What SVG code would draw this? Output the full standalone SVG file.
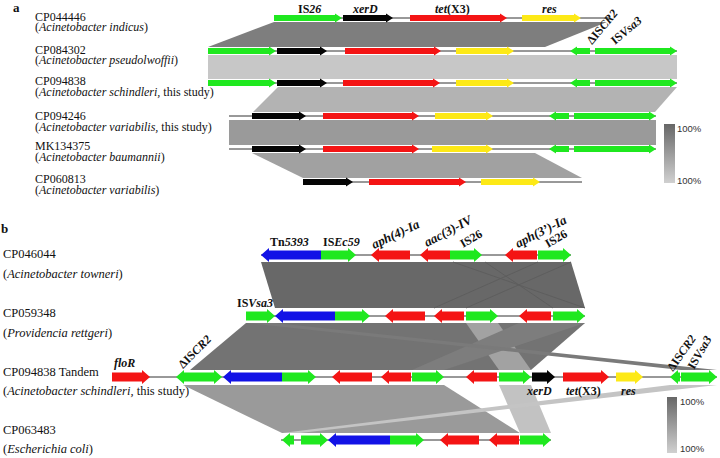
<svg xmlns="http://www.w3.org/2000/svg" width="720" height="458" viewBox="0 0 720 458">
<defs>
<linearGradient id="lg" x1="0" y1="0" x2="0" y2="1">
<stop offset="0" stop-color="#676767"/>
<stop offset="1" stop-color="#d0d0d0"/>
</linearGradient>
<style>
.t{font-family:"Liberation Serif","Times New Roman",serif;font-size:12.5px;fill:#111}
.ta{font-family:"Liberation Serif","Times New Roman",serif;font-size:12px;fill:#111}
.gl{font-family:"Liberation Serif","Times New Roman",serif;font-size:12px;font-weight:bold;fill:#111}
.gb{font-family:"Liberation Serif","Times New Roman",serif;font-size:13px;font-weight:bold;font-style:italic;fill:#111}
.pl{font-family:"Liberation Serif","Times New Roman",serif;font-size:13px;font-weight:bold;fill:#111}
.lg{font-family:"Liberation Sans",Arial,sans-serif;font-size:9.5px;fill:#333}
.ln{stroke:#333;stroke-width:1;fill:none}
.G{fill:#1fe81f}.R{fill:#f41414}.Y{fill:#fde916}.K{fill:#050505}.B{fill:#1212e6}
</style>
</defs>
<rect width="720" height="458" fill="#fff"/>

<!-- ===== Panel a connectors ===== -->
<g id="links-a">
<polygon points="274,22 607,22 545,47 208,47" fill="#7e7e7e"/>
<rect x="208" y="55" width="469" height="24" fill="#c7c7c7"/>
<polygon points="278,87 677,87 655,112 253,112" fill="#b3b3b3"/>
<rect x="229" y="120" width="427" height="25" fill="#9a9a9a"/>
<polygon points="252,153 535,153 582,178 303,178" fill="#a1a1a1"/>
</g>

<!-- ===== Panel b connectors ===== -->
<g id="links-b">
<polygon points="261,262 571,262 585,308 275,308" fill="#686868"/>
<line x1="453" y1="262" x2="585" y2="308" stroke="#5e5e5e" stroke-width="1"/>
<line x1="485" y1="262" x2="553" y2="308" stroke="#5e5e5e" stroke-width="1"/>
<line x1="571" y1="262" x2="466" y2="308" stroke="#5e5e5e" stroke-width="1"/>
<line x1="538" y1="262" x2="434" y2="308" stroke="#5e5e5e" stroke-width="1"/>
<polygon points="246,323 585,323 531,370 190,370" fill="#737373"/>
<polygon points="466,323 498,323 531,370 499,370" fill="#a2a2a2"/>
<polygon points="519,323 585,323 444,370 412,370" fill="#7d7d7d"/>
<polygon points="246,323 275,323 717,370 681,370" fill="#7a7a7a"/>
<polygon points="183,385 444,385 520,433 282,433" fill="#9a9a9a"/>
<polygon points="499,385 531,385 551,433 520,433" fill="#c2c2c2"/>
<polygon points="282,433 300,433 717,385 670,385" fill="#c4c4c4"/>
</g>

<!-- ===== Panel a text ===== -->
<text class="pl" x="13" y="12">a</text>
<g id="labels-a">
<text class="ta" x="35" y="20.5">CP044446</text>
<text class="ta" x="35" y="31">(<tspan font-style="italic">Acinetobacter indicus</tspan>)</text>
<text class="ta" x="35" y="53.5">CP084302</text>
<text class="ta" x="35" y="64">(<tspan font-style="italic">Acinetobacter pseudolwoffii</tspan>)</text>
<text class="ta" x="35" y="85">CP094838</text>
<text class="ta" x="35" y="95.5">(<tspan font-style="italic">Acinetobacter schindleri,</tspan> this study)</text>
<text class="ta" x="35" y="120">CP094246</text>
<text class="ta" x="35" y="130.5">(<tspan font-style="italic">Acinetobacter variabilis,</tspan> this study)</text>
<text class="ta" x="35" y="150">MK134375</text>
<text class="ta" x="35" y="160.5">(<tspan font-style="italic">Acinetobacter baumannii</tspan>)</text>
<text class="ta" x="35" y="183">CP060813</text>
<text class="ta" x="35" y="193.5">(<tspan font-style="italic">Acinetobacter variabilis</tspan>)</text>
</g>
<g id="gene-labels-a">
<text class="gl" x="298" y="12.5">IS<tspan font-style="italic">26</tspan></text>
<text class="gl" x="353" y="12.5" font-style="italic">xerD</text>
<text class="gl" x="435" y="12.5"><tspan font-style="italic">tet</tspan>(X3)</text>
<text class="gl" x="542" y="12.5" font-style="italic">res</text>
<text class="gl" transform="translate(592,45) rotate(-50)">ΔIS<tspan font-style="italic">CR2</tspan></text>
<text class="gl" transform="translate(615,45) rotate(-40)">IS<tspan font-style="italic">Vsa3</tspan></text>
</g>

<!-- Panel a rows -->
<g id="a-row1">
<line class="ln" x1="274" y1="18" x2="610" y2="18"/>
<polygon class="G" points="274,15 335,15 335,13.5 342,18 335,22.5 335,21 274,21"/>
<polygon class="K" points="343,15 386,15 386,13.5 393,18 386,22.5 386,21 343,21"/>
<polygon class="R" points="410,15 500,15 500,13.5 507,18 500,22.5 500,21 410,21"/>
<polygon class="Y" points="522,15 574,15 574,13.5 581,18 574,22.5 574,21 522,21"/>
</g>
<g id="a-row2">
<line class="ln" x1="208" y1="51" x2="677" y2="51"/>
<polygon class="G" points="208,48 269,48 269,46.5 276,51 269,55.5 269,54 208,54"/>
<polygon class="K" points="277,48 320,48 320,46.5 327,51 320,55.5 320,54 277,54"/>
<polygon class="R" points="345,48 434,48 434,46.5 441,51 434,55.5 434,54 345,54"/>
<polygon class="Y" points="456,48 507,48 507,46.5 514,51 507,55.5 507,54 456,54"/>
<polygon class="G" points="590,48 577,48 577,46.5 570,51 577,55.5 577,54 590,54"/>
<polygon class="G" points="595,48 670,48 670,46.5 677,51 670,55.5 670,54 595,54"/>
</g>
<g id="a-row3">
<line class="ln" x1="208" y1="83" x2="677" y2="83"/>
<polygon class="G" points="208,80 269,80 269,78.5 276,83 269,87.5 269,86 208,86"/>
<polygon class="K" points="277,80 320,80 320,78.5 327,83 320,87.5 320,86 277,86"/>
<polygon class="R" points="343,80 433,80 433,78.5 440,83 433,87.5 433,86 343,86"/>
<polygon class="Y" points="456,80 507,80 507,78.5 514,83 507,87.5 507,86 456,86"/>
<polygon class="G" points="590,80 577,80 577,78.5 570,83 577,87.5 577,86 590,86"/>
<polygon class="G" points="595,80 670,80 670,78.5 677,83 670,87.5 670,86 595,86"/>
</g>
<g id="a-row4">
<line class="ln" x1="229" y1="116" x2="656" y2="116"/>
<polygon class="K" points="252,113 299,113 299,111.5 306,116 299,120.5 299,119 252,119"/>
<polygon class="R" points="323,113 412,113 412,111.5 419,116 412,120.5 412,119 323,119"/>
<polygon class="Y" points="435,113 486,113 486,111.5 493,116 486,120.5 486,119 435,119"/>
<polygon class="G" points="569,113 556,113 556,111.5 549,116 556,120.5 556,119 569,119"/>
<polygon class="G" points="574,113 649,113 649,111.5 656,116 649,120.5 649,119 574,119"/>
</g>
<g id="a-row5">
<line class="ln" x1="229" y1="149" x2="656" y2="149"/>
<polygon class="K" points="252,146 299,146 299,144.5 306,149 299,153.5 299,152 252,152"/>
<polygon class="R" points="323,146 412,146 412,144.5 419,149 412,153.5 412,152 323,152"/>
<polygon class="Y" points="432,146 486,146 486,144.5 493,149 486,153.5 486,152 432,152"/>
<polygon class="G" points="569,146 556,146 556,144.5 549,149 556,153.5 556,152 569,152"/>
<polygon class="G" points="574,146 649,146 649,144.5 656,149 649,153.5 649,152 574,152"/>
</g>
<g id="a-row6">
<line class="ln" x1="303" y1="182" x2="582" y2="182"/>
<polygon class="K" points="303,179 346,179 346,177.5 353,182 346,186.5 346,185 303,185"/>
<polygon class="R" points="369,179 459,179 459,177.5 466,182 459,186.5 459,185 369,185"/>
<polygon class="Y" points="481,179 533,179 533,177.5 540,182 533,186.5 533,185 481,185"/>
</g>
<g id="legend-a">
<rect x="664" y="124" width="11" height="59" fill="url(#lg)"/>
<text class="lg" x="677" y="132">100%</text>
<text class="lg" x="677" y="184">100%</text>
</g>

<!-- ===== Panel b text ===== -->
<text class="pl" x="1" y="233">b</text>
<g id="labels-b">
<text class="t" x="3" y="258">CP046044</text>
<text class="t" x="3" y="278">(<tspan font-style="italic">Acinetobacter towneri</tspan>)</text>
<text class="t" x="3" y="317">CP059348</text>
<text class="t" x="3" y="337">(<tspan font-style="italic">Providencia rettgeri</tspan>)</text>
<text class="t" x="3" y="376">CP094838 Tandem</text>
<text class="t" x="3" y="395">(<tspan font-style="italic">Acinetobacter schindleri,</tspan> this study)</text>
<text class="t" x="3" y="434">CP063483</text>
<text class="t" x="3" y="453">(<tspan font-style="italic">Escherichia coli</tspan>)</text>
</g>
<g id="gene-labels-b">
<text class="gl" x="270" y="246">Tn<tspan font-style="italic">5393</tspan></text>
<text class="gl" x="323" y="246">IS<tspan font-style="italic">Ec59</tspan></text>
<text class="gb" transform="translate(374,249) rotate(-25)">aph(4)-Ia</text>
<text class="gb" transform="translate(427,247) rotate(-28)">aac(3)-IV</text>
<text class="gl" font-size="13" transform="translate(463,248) rotate(-30)">IS26</text>
<text class="gb" transform="translate(518,248) rotate(-27)">aph(3’)-Ia</text>
<text class="gl" font-size="13" transform="translate(548,248) rotate(-30)">IS26</text>
<text class="gl" x="237" y="307">IS<tspan font-style="italic">Vsa3</tspan></text>
<text class="gl" x="114" y="367" font-style="italic">floR</text>
<text class="gl" transform="translate(183,369) rotate(-45)">ΔIS<tspan font-style="italic">CR2</tspan></text>
<text class="gl" x="527" y="395" font-style="italic">xerD</text>
<text class="gl" x="566" y="395"><tspan font-style="italic">tet</tspan>(X3)</text>
<text class="gl" x="621" y="395" font-style="italic">res</text>
<text class="gl" transform="translate(673,372) rotate(-55)">ΔIS<tspan font-style="italic">CR2</tspan></text>
<text class="gl" transform="translate(694,370) rotate(-60)">IS<tspan font-style="italic">Vsa3</tspan></text>
</g>

<!-- Panel b rows -->
<g id="b-row1">
<line class="ln" x1="261" y1="255" x2="571" y2="255"/>
<polygon class="B" points="321,250.5 269,250.5 269,248 261,255 269,262 269,259.5 321,259.5"/>
<polygon class="G" points="321,250.5 348,250.5 348,248 356,255 348,262 348,259.5 321,259.5"/>
<polygon class="R" points="410,250.5 379,250.5 379,248 371,255 379,262 379,259.5 410,259.5"/>
<polygon class="R" points="450,250.5 428,250.5 428,248 420,255 428,262 428,259.5 450,259.5"/>
<polygon class="G" points="450,250.5 474,250.5 474,248 482,255 474,262 474,259.5 450,259.5"/>
<polygon class="R" points="537,250.5 513,250.5 513,248 505,255 513,262 513,259.5 537,259.5"/>
<polygon class="G" points="538,250.5 563,250.5 563,248 571,255 563,262 563,259.5 538,259.5"/>
</g>
<g id="b-row2">
<line class="ln" x1="246" y1="316" x2="585" y2="316"/>
<polygon class="G" points="246,311.5 267,311.5 267,309 275,316 267,323 267,320.5 246,320.5"/>
<polygon class="B" points="335,311.5 283,311.5 283,309 275,316 283,323 283,320.5 335,320.5"/>
<polygon class="G" points="335,311.5 362,311.5 362,309 370,316 362,323 362,320.5 335,320.5"/>
<polygon class="R" points="425,311.5 393,311.5 393,309 385,316 393,323 393,320.5 425,320.5"/>
<polygon class="R" points="464,311.5 442,311.5 442,309 434,316 442,323 442,320.5 464,320.5"/>
<polygon class="G" points="466,311.5 490,311.5 490,309 498,316 490,323 490,320.5 466,320.5"/>
<polygon class="R" points="551,311.5 527,311.5 527,309 519,316 527,323 527,320.5 551,320.5"/>
<polygon class="G" points="553,311.5 577,311.5 577,309 585,316 577,323 577,320.5 553,320.5"/>
</g>
<g id="b-row3">
<line class="ln" x1="112" y1="377" x2="717" y2="377"/>
<polygon class="R" points="112,372.5 142,372.5 142,370 150,377 142,384 142,381.5 112,381.5"/>
<polygon class="G" points="187,372.5 184,372.5 184,370 176,377 184,384 184,381.5 187,381.5"/>
<polygon class="G" points="187,372.5 214,372.5 214,370 222,377 214,384 214,381.5 187,381.5"/>
<polygon class="B" points="282,372.5 231,372.5 231,370 223,377 231,384 231,381.5 282,381.5"/>
<polygon class="G" points="282,372.5 308,372.5 308,370 316,377 308,384 308,381.5 282,381.5"/>
<polygon class="R" points="372,372.5 340,372.5 340,370 332,377 340,384 340,381.5 372,381.5"/>
<polygon class="R" points="411,372.5 389,372.5 389,370 381,377 389,384 389,381.5 411,381.5"/>
<polygon class="G" points="412,372.5 436,372.5 436,370 444,377 436,384 436,381.5 412,381.5"/>
<polygon class="R" points="497,372.5 474,372.5 474,370 466,377 474,384 474,381.5 497,381.5"/>
<polygon class="G" points="499,372.5 523,372.5 523,370 531,377 523,384 523,381.5 499,381.5"/>
<polygon class="K" points="532,372.5 547,372.5 547,370 555,377 547,384 547,381.5 532,381.5"/>
<polygon class="R" points="563,372.5 601,372.5 601,370 609,377 601,384 601,381.5 563,381.5"/>
<polygon class="Y" points="616,372.5 635,372.5 635,370 643,377 635,384 635,381.5 616,381.5"/>
<polygon class="G" points="680,372.5 678,372.5 678,370 670,377 678,384 678,381.5 680,381.5"/>
<polygon class="G" points="681,372.5 709,372.5 709,370 717,377 709,384 709,381.5 681,381.5"/>
</g>
<g id="b-row4">
<line class="ln" x1="281" y1="440" x2="551" y2="440"/>
<polygon class="G" points="294,435.5 290,435.5 290,433 282,440 290,447 290,444.5 294,444.5"/>
<polygon class="G" points="301,435.5 320,435.5 320,433 328,440 320,447 320,444.5 301,444.5"/>
<polygon class="B" points="390,435.5 336,435.5 336,433 328,440 336,447 336,444.5 390,444.5"/>
<polygon class="G" points="390,435.5 416,435.5 416,433 424,440 416,447 416,444.5 390,444.5"/>
<polygon class="R" points="479,435.5 448,435.5 448,433 440,440 448,447 448,444.5 479,444.5"/>
<polygon class="R" points="519,435.5 497,435.5 497,433 489,440 497,447 497,444.5 519,444.5"/>
<polygon class="G" points="520,435.5 543,435.5 543,433 551,440 543,447 543,444.5 520,444.5"/>
</g>
<g id="legend-b">
<rect x="667" y="397" width="10" height="56" fill="url(#lg)"/>
<text class="lg" x="680" y="405">100%</text>
<text class="lg" x="680" y="452">100%</text>
</g>
</svg>
